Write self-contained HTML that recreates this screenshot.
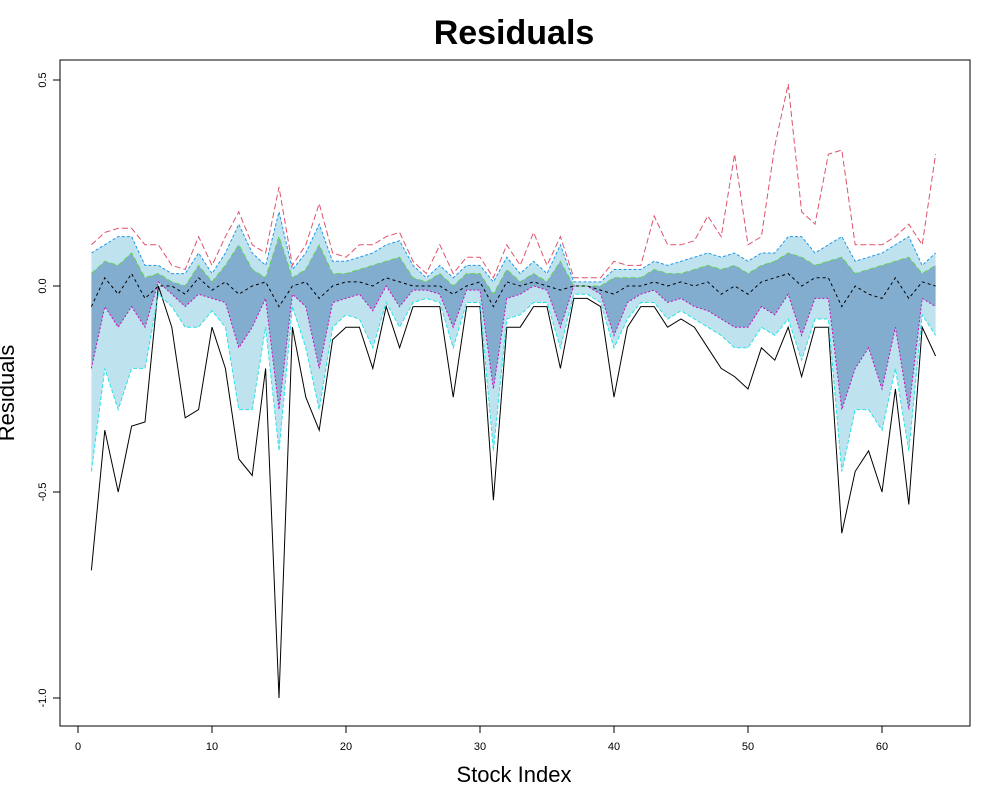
<!DOCTYPE html>
<html><head><meta charset="utf-8"><style>
body{margin:0;background:#fff;font-family:"Liberation Sans",sans-serif}
</style></head><body>
<svg id="c" width="1000" height="800" xmlns="http://www.w3.org/2000/svg">
<rect width="1000" height="800" fill="#fff"/>
<text x="514" y="44" text-anchor="middle" font-size="34" font-weight="bold" font-family="Liberation Sans,sans-serif">Residuals</text>
<text x="514" y="782" text-anchor="middle" font-size="22" font-family="Liberation Sans,sans-serif">Stock Index</text>
<text transform="translate(14,393) rotate(-90)" text-anchor="middle" font-size="22" font-family="Liberation Sans,sans-serif">Residuals</text>
<g id="plot"></g>
<rect x="60" y="60" width="910" height="666" fill="none" stroke="#000"/>
<g id="axes"></g>
</svg>
<script>
const xTicks=[0,10,20,30,40,50,60];
const yTicks=[0.5,0.0,-0.5,-1.0];
const yTickLabels=["0.5","0.0","-0.5","-1.0"];
const sMin=[-0.69,-0.35,-0.5,-0.34,-0.33,0.0,-0.1,-0.32,-0.3,-0.1,-0.2,-0.42,-0.46,-0.2,-1.0,-0.1,-0.27,-0.35,-0.13,-0.1,-0.1,-0.2,-0.05,-0.15,-0.05,-0.05,-0.05,-0.27,-0.05,-0.05,-0.52,-0.1,-0.1,-0.05,-0.05,-0.2,-0.03,-0.03,-0.05,-0.27,-0.1,-0.05,-0.05,-0.1,-0.08,-0.1,-0.15,-0.2,-0.22,-0.25,-0.15,-0.18,-0.1,-0.22,-0.1,-0.1,-0.6,-0.45,-0.4,-0.5,-0.25,-0.53,-0.1,-0.17];
const sMax=[0.1,0.13,0.14,0.14,0.1,0.1,0.05,0.04,0.12,0.05,0.12,0.18,0.1,0.08,0.24,0.05,0.1,0.2,0.08,0.07,0.1,0.1,0.12,0.13,0.06,0.03,0.1,0.03,0.07,0.07,0.02,0.1,0.05,0.13,0.05,0.12,0.02,0.02,0.02,0.06,0.05,0.05,0.17,0.1,0.1,0.11,0.17,0.12,0.32,0.1,0.12,0.34,0.49,0.18,0.15,0.32,0.33,0.1,0.1,0.1,0.12,0.15,0.1,0.32];
const sUpper=[0.08,0.1,0.12,0.12,0.05,0.05,0.03,0.03,0.08,0.03,0.08,0.15,0.08,0.05,0.18,0.04,0.08,0.15,0.06,0.06,0.07,0.08,0.1,0.11,0.05,0.02,0.05,0.02,0.05,0.05,0.01,0.07,0.03,0.06,0.03,0.1,0.01,0.01,0.01,0.04,0.04,0.04,0.06,0.05,0.06,0.07,0.08,0.07,0.08,0.06,0.08,0.08,0.12,0.12,0.08,0.1,0.12,0.06,0.07,0.08,0.1,0.12,0.05,0.08];
const sLower=[-0.45,-0.2,-0.3,-0.2,-0.2,-0.02,-0.05,-0.1,-0.1,-0.06,-0.1,-0.3,-0.3,-0.1,-0.4,-0.05,-0.15,-0.3,-0.1,-0.07,-0.08,-0.15,-0.04,-0.1,-0.04,-0.03,-0.04,-0.15,-0.04,-0.04,-0.4,-0.08,-0.07,-0.04,-0.04,-0.15,-0.02,-0.02,-0.04,-0.15,-0.08,-0.04,-0.04,-0.08,-0.06,-0.08,-0.1,-0.12,-0.15,-0.15,-0.1,-0.12,-0.08,-0.18,-0.08,-0.08,-0.45,-0.3,-0.3,-0.35,-0.2,-0.4,-0.07,-0.12];
const sMidA=[-0.2,-0.05,-0.1,-0.05,-0.1,0.01,-0.02,-0.05,-0.02,-0.03,-0.04,-0.15,-0.1,-0.03,-0.3,-0.02,-0.05,-0.2,-0.04,-0.03,-0.02,-0.06,0.0,-0.05,-0.01,-0.01,-0.02,-0.1,-0.01,-0.01,-0.25,-0.03,-0.02,0.0,-0.01,-0.1,0.0,0.0,-0.02,-0.12,-0.04,-0.02,-0.01,-0.04,-0.03,-0.05,-0.06,-0.08,-0.1,-0.1,-0.05,-0.07,-0.02,-0.12,-0.03,-0.03,-0.3,-0.2,-0.15,-0.25,-0.1,-0.3,-0.03,-0.05];
const sMidB=[0.03,0.06,0.05,0.08,0.02,0.03,0.01,0.0,0.05,0.01,0.05,0.1,0.04,0.02,0.12,0.02,0.04,0.1,0.03,0.03,0.04,0.05,0.06,0.07,0.02,0.01,0.03,0.0,0.03,0.03,-0.02,0.04,0.01,0.03,0.01,0.06,0.0,0.0,0.0,0.02,0.02,0.02,0.04,0.03,0.03,0.04,0.05,0.04,0.05,0.03,0.05,0.06,0.08,0.07,0.05,0.06,0.07,0.03,0.04,0.05,0.06,0.07,0.03,0.05];
const sZero=[-0.05,0.02,-0.02,0.03,-0.03,0.0,0.0,-0.02,0.02,-0.01,0.01,-0.02,0.0,0.01,-0.05,0.0,0.01,-0.03,0.0,0.01,0.01,0.0,0.02,0.01,0.0,0.0,0.0,-0.02,0.0,0.01,-0.05,0.01,0.0,0.01,0.0,-0.01,0.0,0.0,-0.01,-0.02,0.0,0.0,0.01,0.0,0.01,0.0,0.01,-0.02,0.0,-0.02,0.01,0.02,0.03,0.0,0.02,0.02,-0.05,0.0,-0.02,-0.03,0.02,-0.03,0.01,0.0];
const X=v=>78+v*13.4, Y=v=>286-v*412;
const NS="http://www.w3.org/2000/svg";
const plot=document.getElementById('plot'), axes=document.getElementById('axes');
function mk(t,a,p){const e=document.createElementNS(NS,t);for(const k in a)e.setAttribute(k,a[k]);p.appendChild(e);return e;}
function pts(arr){return arr.map((v,i)=>X(i+1).toFixed(1)+','+Y(v).toFixed(1));}
const band=mk('polygon',{points:pts(sUpper).concat(pts(sLower).reverse()).join(' '),fill:'#5cb8d8','fill-opacity':'0.4',stroke:'none'},plot);


const inner=mk('polygon',{points:pts(sMidB).concat(pts(sMidA).reverse()).join(' '),fill:'#3a6aa8','fill-opacity':'0.45',stroke:'none'},plot);


const series=[[sMin,'#000','',1],[sMax,'#DF536B','6,3',1],[sUpper,'#2297E6','3,2',1],[sLower,'#28E2E5','4,2',1],[sMidA,'#CD0BBC','2,2',1],[sMidB,'#61D04F','5,3',1],[sZero,'#000','3,3',1]];
series.forEach((s,i)=>{
 const l=mk('polyline',{points:pts(s[0]).join(' '),fill:'none',stroke:s[1],'stroke-width':s[3],'stroke-dasharray':s[2]},plot);
 
 
});
mk('line',{x1:X(0),x2:X(60),y1:726,y2:726,stroke:'#000'},axes);
xTicks.forEach(t=>{
 mk('line',{x1:X(t),x2:X(t),y1:726,y2:733,stroke:'#000'},axes);
 const tx=mk('text',{x:X(t),y:750,'text-anchor':'middle','font-size':'11','font-family':'Liberation Sans,sans-serif'},axes);
 tx.textContent=t;
 
 
});
mk('line',{x1:60,x2:60,y1:Y(0.5),y2:Y(-1),stroke:'#000'},axes);
yTicks.forEach((t,i)=>{
 mk('line',{x1:53,x2:60,y1:Y(t),y2:Y(t),stroke:'#000'},axes);
 const tx=mk('text',{transform:`translate(46,${Y(t)}) rotate(-90)`,'text-anchor':'middle','font-size':'11','font-family':'Liberation Sans,sans-serif'},axes);
 tx.textContent=yTickLabels[i];
 
 
});
</script>
</body></html>
